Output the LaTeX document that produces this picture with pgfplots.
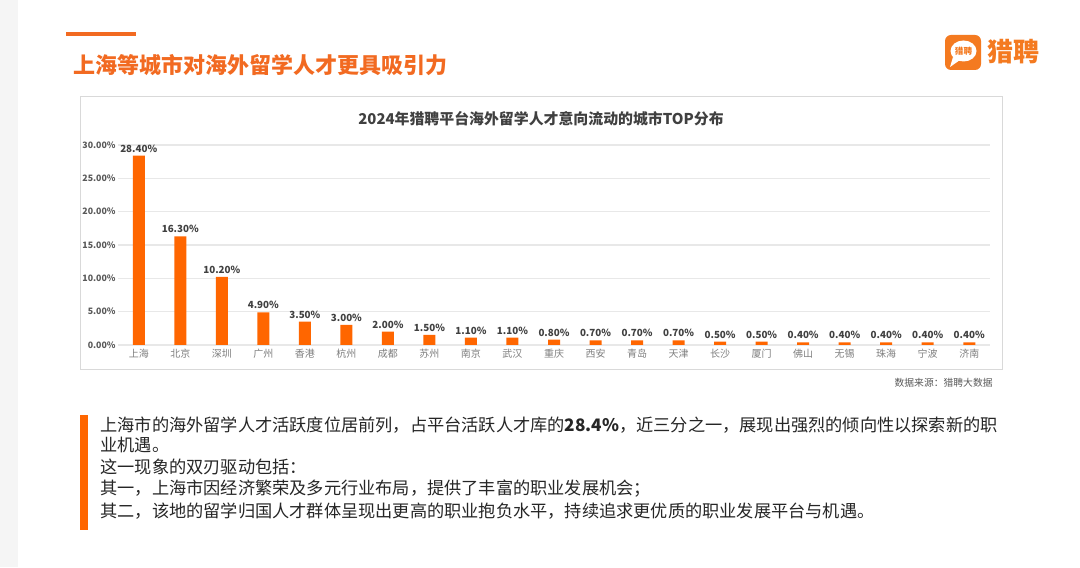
\documentclass[border=0pt]{standalone}
\usepackage{pgfplots}
\pgfplotsset{compat=1.18}
\usepackage{fontspec}
\setmainfont{Noto Sans CJK SC}
\definecolor{barorange}{HTML}{FF6600}
\definecolor{titleorange}{HTML}{F26A21}
\definecolor{logoorange}{HTML}{F47A20}
\definecolor{txt}{HTML}{262626}
\definecolor{ctitle}{HTML}{404040}
\definecolor{ticktxt}{HTML}{595959}
\definecolor{xticktxt}{HTML}{7F7F7F}
\definecolor{gridc}{HTML}{E8E8E8}
\definecolor{boxc}{HTML}{D9D9D9}
\pgfplotstableread{
x v
0 28.4
1 16.3
2 10.2
3 4.9
4 3.5
5 3.0
6 2.0
7 1.5
8 1.1
9 1.1
10 0.8
11 0.7
12 0.7
13 0.7
14 0.5
15 0.5
16 0.4
17 0.4
18 0.4
19 0.4
20 0.4
}\citydata
\begin{document}
\begin{tikzpicture}[x=0.5pt,y=0.5pt]
\fill[white] (0,0) rectangle (1080,567);
\fill[black!4] (0,0) rectangle (18,567);
% header
\fill[titleorange] (66,531) rectangle (136,535);
\node[anchor=west, inner sep=0, font=\fontsize{11}{13}\selectfont\bfseries, text=titleorange] at (73,502) {上海等城市对海外留学人才更具吸引力};
% logo
\fill[logoorange, rounded corners=3pt] (945,497) rectangle (981,532);
\fill[white] (963.5,516) ellipse (13 and 10.5);
\fill[white] (953,510) -- (950,500) -- (960,507) -- cycle;
\node[inner sep=0, font=\fontsize{4.3}{5}\selectfont\bfseries, text=logoorange] at (963.5,516) {猎聘};
\node[anchor=west, inner sep=0, font=\fontsize{13}{15}\selectfont\bfseries, text=logoorange] at (987,515) {猎聘};
% chart box
\draw[boxc, line width=0.5pt] (80,470) rectangle (1002,197);
\node[inner sep=0, font=\fontsize{7.45}{9}\selectfont\bfseries, text=ctitle] at (541,448) {2024年猎聘平台海外留学人才意向流动的城市TOP分布};
\begin{axis}[
  at={(59pt,111pt)}, anchor=south west,
  scale only axis, width=436pt, height=100pt,
  xmin=-0.5, xmax=20.5, ymin=0, ymax=30,
  ybar, bar width=6pt,
  axis line style={draw=none},
  ymajorgrids, grid style={gridc, line width=0.6pt},
  major tick length=0pt,
  ytick={0,5,10,15,20,25,30},
  yticklabels={0.00\%,5.00\%,10.00\%,15.00\%,20.00\%,25.00\%,30.00\%},
  yticklabel style={font=\fontsize{4.4}{5}\selectfont\bfseries, text=ticktxt, inner sep=1pt},
  xtick=data,
  xticklabels={上海,北京,深圳,广州,香港,杭州,成都,苏州,南京,武汉,重庆,西安,青岛,天津,长沙,厦门,佛山,无锡,珠海,宁波,济南},
  xticklabel style={font=\fontsize{5}{6}\selectfont, text=xticktxt, inner sep=1pt, yshift=-1pt},
  nodes near coords={\pgfmathprintnumber[fixed,fixed zerofill,precision=2,assume math mode=true]{\pgfplotspointmeta}\%},
  every node near coord/.append style={font=\fontsize{4.9}{6}\selectfont\bfseries, text=ctitle, inner sep=1pt, yshift=0.5pt},
  clip=false,
]
\addplot[fill=barorange, draw=none] table[x=x, y=v] {\citydata};
\end{axis}
\node[anchor=east, inner sep=0, font=\fontsize{4.9}{6}\selectfont, text=ticktxt] at (993,184) {数据来源：猎聘大数据};
% text box
\fill[barorange] (80,37) rectangle (88,152);
\begin{scope}[every node/.style={anchor=west, inner sep=0, font=\fontsize{8.6}{10}\selectfont, text=txt}]
\node at (100,142) {上海市的海外留学人才活跃度位居前列，占平台活跃人才库的\textbf{28.4\%}，近三分之一，展现出强烈的倾向性以探索新的职};
\node at (100,122) {业机遇。};
\node at (100,100) {这一现象的双刃驱动包括：};
\node at (100,78) {其一，上海市因经济繁荣及多元行业布局，提供了丰富的职业发展机会；};
\node at (100,56) {其二，该地的留学归国人才群体呈现出更高的职业抱负水平，持续追求更优质的职业发展平台与机遇。};
\end{scope}
\end{tikzpicture}
\end{document}
